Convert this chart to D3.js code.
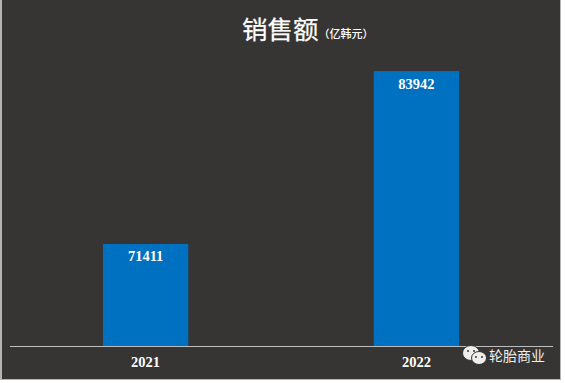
<!DOCTYPE html>
<html>

<head>
    <meta charset="utf-8">
    <title>销售额</title>
    <style>
        * {
            margin: 0;
            padding: 0;
        }
        body {
            background-color: #fff;
            overflow: hidden;
        }
    </style>
    <script src="https://cdnjs.cloudflare.com/ajax/libs/d3/7.8.5/d3.min.js"></script>
</head>

<body>
    <div id="chart"></div>

    <script>
        var years = ["2021", "2022"];
        var sales = [71411, 83942];

        var width = 565;
        var height = 383;
        var baseY = 346;
        var panelColor = "#373533";
        var cjk = "'Noto Sans CJK SC', sans-serif";
        var serif = "'Liberation Serif', serif";

        var svg = d3.select("#chart").append("svg").attr("width", width).attr("height", height);

        // panel, with a thin pale edge on the left and at the bottom right
        svg.append("rect").attr("x", 0).attr("y", 0).attr("width", 561).attr("height", 380).attr("fill", "#b5b5b5");
        svg.append("rect").attr("x", 2).attr("y", 0).attr("width", 558).attr("height", 379).attr("fill", panelColor);

        var x = d3.scaleBand().domain(years).range([9.5, 552.6]).paddingInner(0.685).paddingOuter(0.345);
        // the value axis does not start at zero
        var y = d3.scaleLinear().domain([64020, 83942]).range([baseY, 71]);

        svg.selectAll("rect.bar").data(years).enter().append("rect").attr("class", "bar")
            .attr("x", function(d) { return x(d); })
            .attr("y", function(d, i) { return y(sales[i]); })
            .attr("width", x.bandwidth())
            .attr("height", function(d, i) { return baseY - y(sales[i]); })
            .attr("fill", "#0070c0");

        svg.selectAll("text.val").data(years).enter().append("text").attr("class", "val")
            .attr("x", function(d) { return x(d) + x.bandwidth() / 2; })
            .attr("y", function(d, i) { return y(sales[i]) + 17.5; })
            .attr("text-anchor", "middle")
            .attr("font-family", serif).attr("font-size", 14.5).attr("font-weight", "bold")
            .attr("fill", "#fff")
            .text(function(d, i) { return sales[i]; });

        var xAxis = d3.axisBottom(x).tickSize(0).tickPadding(11);
        var gx = svg.append("g").attr("transform", "translate(0," + baseY + ")").call(xAxis);
        gx.select(".domain").attr("stroke", "#bdbdbd").attr("stroke-width", 1);
        gx.selectAll("text").attr("font-family", serif).attr("font-size", 14.5)
            .attr("font-weight", "bold").attr("fill", "#fff");

        var title = svg.append("text").attr("x", 242).attr("y", 39).attr("fill", "#fff").attr("font-family", cjk);
        title.append("tspan").attr("font-size", 25.5).attr("stroke", "#fff").attr("stroke-width", 0.25).text("销售额");
        title.append("tspan").attr("font-size", 11).attr("font-weight", 500).attr("dy", -1).text("（亿韩元）");

        // watermark
        var logo = svg.append("g").attr("fill", "#eee").attr("stroke", panelColor).attr("stroke-width", 1);
        logo.append("ellipse").attr("cx", 471).attr("cy", 353).attr("rx", 8.5).attr("ry", 7.5);
        logo.append("ellipse").attr("cx", 479).attr("cy", 358).attr("rx", 7.5).attr("ry", 6.5);
        var eyes = svg.append("g").attr("fill", panelColor);
        [[468, 351], [474, 351], [476, 357], [482, 357]].forEach(function(p) {
            eyes.append("circle").attr("cx", p[0]).attr("cy", p[1]).attr("r", 1);
        });
        svg.append("text").attr("x", 489).attr("y", 361).attr("fill", "#eee")
            .attr("font-family", cjk).attr("font-size", 14).text("轮胎商业");
    </script>
</body>

</html>
